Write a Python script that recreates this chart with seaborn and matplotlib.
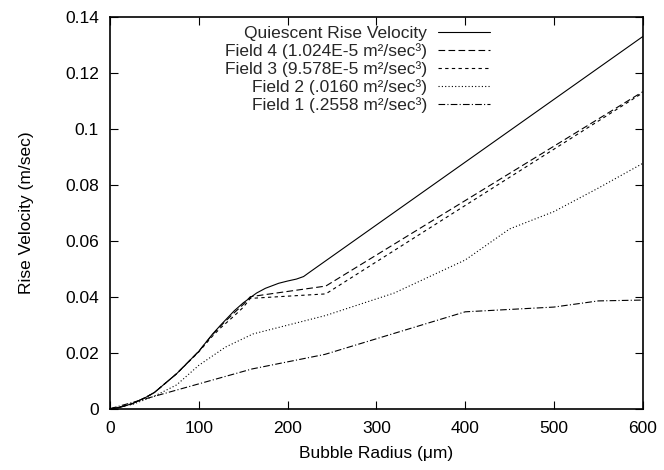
import matplotlib
matplotlib.use("Agg")
import matplotlib.pyplot as plt
import seaborn as sns
import pandas as pd

sns.set_theme(style="ticks")
plt.rcParams['font.family'] = ['Liberation Sans', 'DejaVu Sans']

# Quiescent rise velocity
q_x = [0, 10, 25, 40, 50, 75, 100, 115, 125, 140, 150, 165, 175, 190, 200, 210, 218, 225, 600]
q_y = [0, 0.0004, 0.0018, 0.0040, 0.0058, 0.0125, 0.0205, 0.0265, 0.0300, 0.0350, 0.0378, 0.0413, 0.0430, 0.0448, 0.0456, 0.0463, 0.0472, 0.0488, 0.1329]

# Field 4
f4_x = [0, 10, 25, 40, 50, 75, 100, 115, 125, 140, 150, 158, 243, 600]
f4_y = [0, 0.0004, 0.0018, 0.0040, 0.0058, 0.0125, 0.0205, 0.0263, 0.0297, 0.0343, 0.0372, 0.0400, 0.0438, 0.1132]

# Field 3
f3_x = [0, 10, 25, 40, 50, 75, 100, 115, 125, 140, 150, 158, 243, 600]
f3_y = [0, 0.0004, 0.0018, 0.0040, 0.0058, 0.0125, 0.0203, 0.0258, 0.0290, 0.0332, 0.0362, 0.0394, 0.0410, 0.1128]

# Field 2
f2_x = [0, 25, 50, 75, 100, 130, 161, 243, 320, 400, 450, 500, 550, 600]
f2_y = [0, 0.0015, 0.0045, 0.0085, 0.0155, 0.0220, 0.0267, 0.0333, 0.0413, 0.0531, 0.0642, 0.0704, 0.0788, 0.0876]

# Field 1
f1_x = [0, 160, 242, 400, 500, 550, 600]
f1_y = [0, 0.0142, 0.0194, 0.0346, 0.0363, 0.0385, 0.0388]

labels = [
    "Quiescent Rise Velocity",
    "Field 4 (1.024E-5 m²/sec³)",
    "Field 3 (9.578E-5 m²/sec³)",
    "Field 2 (.0160 m²/sec³)",
    "Field 1 (.2558 m²/sec³)",
]

x_ticks = [0, 100, 200, 300, 400, 500, 600]
y_ticks = [0, 0.02, 0.04, 0.06, 0.08, 0.1, 0.12, 0.14]
y_tick_labels = ["0", "0.02", "0.04", "0.06", "0.08", "0.1", "0.12", "0.14"]

series = [(q_x, q_y), (f4_x, f4_y), (f3_x, f3_y), (f2_x, f2_y), (f1_x, f1_y)]
styles = ["-", (0, (6, 3)), (0, (3, 3)), (0, (1, 2)), (0, (6, 2, 1, 2))]

FS = 12.5

fig = plt.figure(figsize=(6.64, 4.70), dpi=100)
ax = fig.add_axes([0.1657, 0.1304, 0.8023, 0.8341])

for (xs, ys), lab, ls in zip(series, labels, styles):
    df = pd.DataFrame({"x": xs, "y": ys})
    sns.lineplot(data=df, x="x", y="y", ax=ax, color="black", linewidth=0.8,
                 linestyle=ls, label=lab, sort=False, estimator=None)

ax.set_xlim(0, 600)
ax.set_ylim(0, 0.14)
ax.set_xticks(x_ticks)
ax.set_xticklabels([str(t) for t in x_ticks])
ax.set_yticks(y_ticks)
ax.set_yticklabels(y_tick_labels)
ax.tick_params(direction="in", length=6, width=0.8, top=True, right=True,
               labelsize=FS, colors="black")
ax.tick_params(axis="x", pad=9)
ax.tick_params(axis="y", pad=8)
for sp in ax.spines.values():
    sp.set_visible(True)
    sp.set_linewidth(1.2)
    sp.set_color("black")

ax.set_xlabel("Bubble Radius (μm)", fontsize=FS, color="black", labelpad=7)
ax.set_ylabel("Rise Velocity (m/sec)", fontsize=FS, color="black", labelpad=22)

leg = ax.legend(loc="upper right", bbox_to_anchor=(0.713, 0.976), frameon=False,
                markerfirst=False, fontsize=FS, handlelength=3.0,
                labelspacing=0.12, handletextpad=0.6, borderaxespad=0,
                borderpad=0)
for t in leg.get_texts():
    t.set_ha("right")
leg._legend_box.align = "right"

fig.savefig("out.png", dpi=100)
